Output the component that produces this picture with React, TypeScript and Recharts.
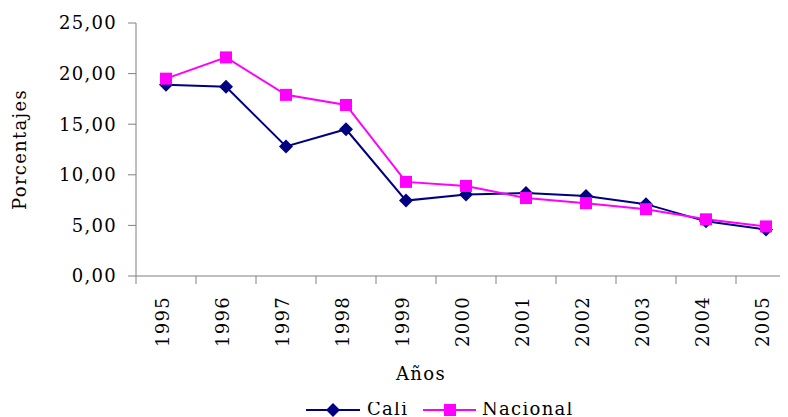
import React from 'react';
import { LineChart, Line, XAxis, YAxis, Legend } from 'recharts';

const years = ['1995', '1996', '1997', '1998', '1999', '2000', '2001', '2002', '2003', '2004', '2005'];
const cali = [18.9, 18.7, 12.8, 14.5, 7.45, 8.05, 8.2, 7.9, 7.1, 5.4, 4.6];
const nacional = [19.5, 21.6, 17.9, 16.9, 9.3, 8.9, 7.7, 7.2, 6.6, 5.6, 4.9];
const yTicks = [0, 5, 10, 15, 20, 25];

const data = years.map((y, i) => ({ year: y, Cali: cali[i], Nacional: nacional[i] }));

const FONT = '"DejaVu Serif", serif';
const FS = 18;
const LS = 1.3;
const AXIS = '#808080';
const CALI_C = '#000080';
const NAC_C = '#FF00FF';

const fmt = (v: number) => v.toFixed(2).replace('.', ',');

const Diamond = (props: any) => {
  const { cx, cy } = props;
  if (cx == null || cy == null) return null;
  const r = 7;
  return <polygon points={`${cx},${cy - r} ${cx + r},${cy} ${cx},${cy + r} ${cx - r},${cy}`} fill={CALI_C} />;
};
const Square = (props: any) => {
  const { cx, cy } = props;
  if (cx == null || cy == null) return null;
  const s = 6;
  return <rect x={cx - s} y={cy - s} width={s * 2} height={s * 2} fill={NAC_C} />;
};

const XTick = (props: any) => {
  const { x, y, payload } = props;
  return (
    <g>
      <line x1={x - 30} y1={y - 8} x2={x - 30} y2={y} stroke={AXIS} strokeWidth={1} />
      <text
        x={0}
        y={0}
        transform={`translate(${x - 3},${y + 12}) rotate(-90)`}
        textAnchor="end"
        dy="0.36em"
        fontFamily={FONT}
        fontSize={FS}
        letterSpacing={LS}
        fill="#000"
      >
        {payload.value}
      </text>
    </g>
  );
};

const YLabel = (props: any) => {
  const { viewBox } = props;
  const cy = viewBox.y + viewBox.height / 2;
  return (
    <text
      x={0}
      y={0}
      transform={`translate(12,${cy}) rotate(-90)`}
      textAnchor="middle"
      dy="0.36em"
      fontFamily={FONT}
      fontSize={FS}
      letterSpacing={LS}
      fill="#000"
    >
      Porcentajes
    </text>
  );
};

const LegendContent = () => (
  <svg width={788} height={24} style={{ display: 'block' }}>
    <line x1={298} y1={8} x2={352} y2={8} stroke={CALI_C} strokeWidth={2} />
    <Diamond cx={325} cy={8} />
    <text x={359} y={13} fontFamily={FONT} fontSize={FS} letterSpacing={LS} fill="#000">Cali</text>
    <line x1={415} y1={8} x2={468} y2={8} stroke={NAC_C} strokeWidth={2} />
    <Square cx={442} cy={8} />
    <text x={474} y={13} fontFamily={FONT} fontSize={FS} letterSpacing={LS} fill="#000">Nacional</text>
  </svg>
);

export default function App() {
  return (
    <div style={{ width: 780, height: 409, overflow: 'hidden', position: 'relative', background: '#fff' }}>
      <LineChart width={800} height={409} data={data} margin={{ top: 15, right: 12, bottom: 0, left: 0 }}>
        <XAxis
          dataKey="year"
          scale="band"
          height={141}
          stroke={AXIS}
          tickLine={false}
          tick={<XTick />}
          interval={0}
          label={{ value: 'Años', position: 'insideTop', dx: -45, dy: 86, fontFamily: FONT, fontSize: FS, letterSpacing: LS, fill: '#000' } as any}
        />
        <YAxis
          domain={[0, 25]}
          ticks={yTicks}
          width={128}
          stroke={AXIS}
          tickSize={8}
          tickMargin={11}
          tickFormatter={fmt}
          tick={{ fontFamily: FONT, fontSize: FS, fill: '#000', letterSpacing: LS } as any}
          label={<YLabel />}
        />
        <Legend
          layout="horizontal"
          verticalAlign="middle"
          align="center"
          wrapperStyle={{ position: 'absolute', top: 394, left: 0, width: 788 }}
          content={<LegendContent />}
        />
        <Line type="linear" dataKey="Cali" stroke={CALI_C} strokeWidth={2} dot={<Diamond />} activeDot={false} isAnimationActive={false} />
        <Line type="linear" dataKey="Nacional" stroke={NAC_C} strokeWidth={2} dot={<Square />} activeDot={false} isAnimationActive={false} />
      </LineChart>
    </div>
  );
}
